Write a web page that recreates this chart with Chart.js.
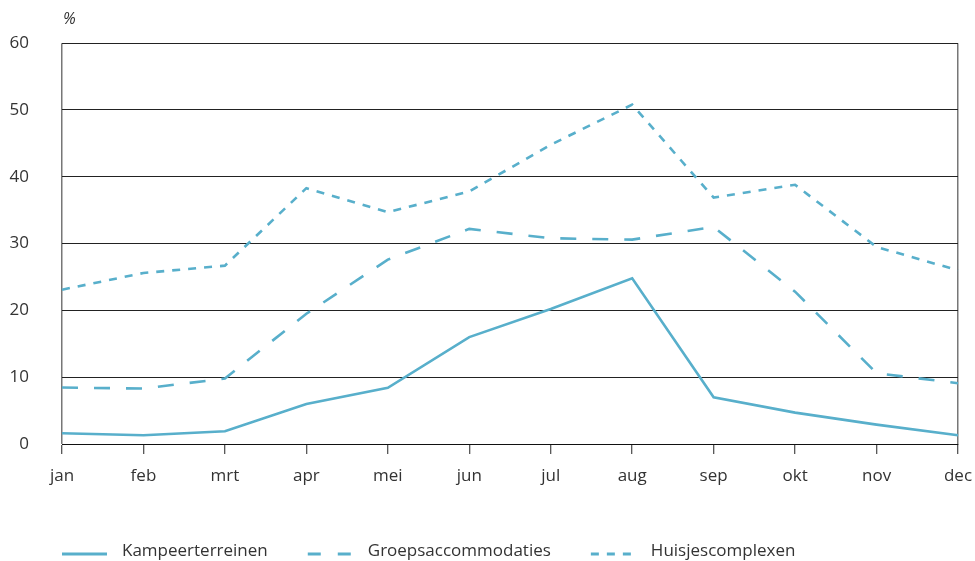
<!DOCTYPE html>
<html>
<head>
<meta charset="utf-8">
<script src="https://cdn.jsdelivr.net/npm/chart.js@4.4.0/dist/chart.umd.min.js"></script>
<style>
html,body{margin:0;padding:0;background:#fff;}
#wrap{width:975px;height:561px;position:relative;}
</style>
</head>
<body>
<div id="wrap"><canvas id="c" width="975" height="561"></canvas></div>
<script>
const categories = ['jan','feb','mrt','apr','mei','jun','jul','aug','sep','okt','nov','dec'];
const kampeerterreinen = [1.6, 1.3, 1.9, 6.0, 8.4, 16.0, 20.2, 24.8, 7.0, 4.7, 2.9, 1.3];
const groepsaccommodaties = [8.45, 8.3, 9.8, 19.5, 27.6, 32.2, 30.8, 30.6, 32.5, 22.8, 10.6, 9.1];
const huisjescomplexen = [23.1, 25.6, 26.7, 38.3, 34.7, 37.8, 44.8, 50.8, 36.9, 38.8, 29.5, 26.0];
const yTicks = [0, 10, 20, 30, 40, 50, 60];
const unitLabel = '%';

const lineColor = '#58afcb';
const textColor = '#333333';
const fontFamily = '"Open Sans", "Noto Sans", sans-serif';

const legendPlugin = {
  id: 'customLegend',
  afterDraw(chart) {
    const ctx = chart.ctx;
    const area = chart.chartArea;
    ctx.save();
    ctx.font = '17px ' + fontFamily;
    ctx.textBaseline = 'middle';
    ctx.textAlign = 'left';
    let x = area.left;
    const yLine = 554, yText = 551;
    chart.data.datasets.forEach(ds => {
      ctx.beginPath();
      ctx.strokeStyle = ds.borderColor;
      ctx.lineWidth = 3;
      ctx.setLineDash(ds.legendDash || []);
      ctx.moveTo(x, yLine);
      ctx.lineTo(x + 45, yLine);
      ctx.stroke();
      ctx.setLineDash([]);
      ctx.fillStyle = textColor;
      ctx.fillText(ds.label, x + 60, yText);
      x += 60 + ctx.measureText(ds.label).width + 40;
    });
    // unit label
    ctx.font = 'italic 16px ' + fontFamily;
    ctx.fillText(unitLabel, area.left + 1, 19);
    ctx.restore();
  }
};

new Chart(document.getElementById('c'), {
  type: 'line',
  data: {
    labels: categories,
    datasets: [
      { label: 'Kampeerterreinen', data: kampeerterreinen, borderColor: lineColor, borderWidth: 2.6, borderDash: [], legendDash: [], pointRadius: 0, tension: 0, fill: false },
      { label: 'Groepsaccommodaties', data: groepsaccommodaties, borderColor: lineColor, borderWidth: 2.6, borderDash: [16, 16], legendDash: [13, 17], pointRadius: 0, tension: 0, fill: false },
      { label: 'Huisjescomplexen', data: huisjescomplexen, borderColor: lineColor, borderWidth: 2.6, borderDash: [8, 8], legendDash: [8, 8], pointRadius: 0, tension: 0, fill: false }
    ]
  },
  options: {
    responsive: false,
    animation: false,
    devicePixelRatio: 1,
    layout: { padding: { left: 0, right: 17, top: 43, bottom: 0 } },
    plugins: { legend: { display: false }, tooltip: { enabled: false } },
    scales: {
      x: {
        offset: false,
        grid: {
          display: true,
          drawOnChartArea: true,
          color: (c) => (c.index === 0 || c.index === categories.length - 1) ? '#777777' : 'rgba(0,0,0,0)',
          lineWidth: 1.5,
          tickColor: '#222222',
          tickLength: 10,
          tickWidth: 1
        },
        border: { display: true, color: '#111111', width: 1 },
        ticks: { color: textColor, font: { family: fontFamily, size: 17 }, padding: 12, maxRotation: 0, autoSkip: false },
        afterFit(scale) { scale.height = 117; scale.paddingRight = 0; scale.paddingLeft = 0; }
      },
      y: {
        min: 0, max: 60,
        afterBuildTicks(scale) { scale.ticks = yTicks.map(v => ({ value: v })); },
        grid: { color: '#222222', lineWidth: 1, drawTicks: false },
        border: { display: false },
        ticks: { color: textColor, font: { family: fontFamily, size: 17 }, padding: 33 },
        afterFit(scale) { scale.width = 62; }
      }
    }
  },
  plugins: [legendPlugin]
});
</script>
</body>
</html>
